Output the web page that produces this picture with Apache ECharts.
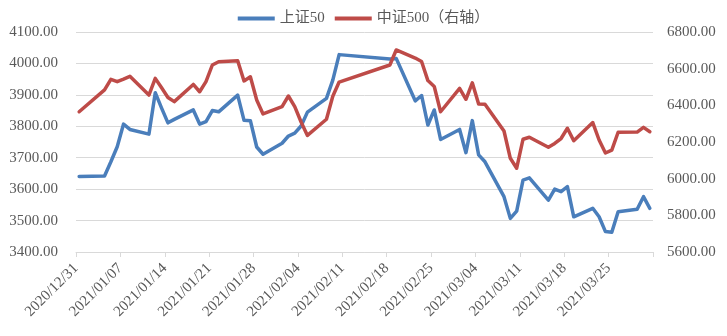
<!DOCTYPE html>
<html>
<head>
<meta charset="utf-8">
<script src="https://cdn.jsdelivr.net/npm/echarts@6/dist/echarts.min.js"></script>
<style>
  html, body { margin: 0; padding: 0; background: #fff; }
  #chart { width: 727px; height: 336px; }
</style>
</head>
<body>
<div id="chart"></div>
<script>
// Trading days, 2020/12/31 – 2021/03/31
const dates = [
  '2020/12/31',
  '2021/01/04','2021/01/05','2021/01/06','2021/01/07','2021/01/08',
  '2021/01/11','2021/01/12','2021/01/13','2021/01/14','2021/01/15',
  '2021/01/18','2021/01/19','2021/01/20','2021/01/21','2021/01/22',
  '2021/01/25','2021/01/26','2021/01/27','2021/01/28','2021/01/29',
  '2021/02/01','2021/02/02','2021/02/03','2021/02/04','2021/02/05',
  '2021/02/08','2021/02/09','2021/02/10',
  '2021/02/18','2021/02/19',
  '2021/02/22','2021/02/23','2021/02/24','2021/02/25','2021/02/26',
  '2021/03/01','2021/03/02','2021/03/03','2021/03/04','2021/03/05',
  '2021/03/08','2021/03/09','2021/03/10','2021/03/11','2021/03/12',
  '2021/03/15','2021/03/16','2021/03/17','2021/03/18','2021/03/19',
  '2021/03/22','2021/03/23','2021/03/24','2021/03/25','2021/03/26',
  '2021/03/29','2021/03/30','2021/03/31'
];

// 上证50 closing level (left axis)
const sz50 = [
  3640,
  3642, 3687, 3735, 3807, 3790,
  3775, 3907, 3858, 3811, 3822,
  3852, 3807, 3815, 3850, 3846,
  3899, 3819, 3818, 3734, 3711,
  3746, 3769, 3778, 3801, 3845,
  3889, 3947, 4028,
  4014, 4016,
  3881, 3898, 3804, 3852, 3758,
  3790, 3716, 3818, 3709, 3687,
  3576, 3507, 3530, 3629, 3636,
  3565, 3600, 3592, 3608, 3512,
  3539, 3512, 3465, 3463, 3528,
  3536, 3576, 3539
];

// 中证500 closing level (right axis)
const zz500 = [
  6365,
  6484, 6542, 6529, 6543, 6558,
  6456, 6547, 6496, 6443, 6420,
  6514, 6474, 6529, 6620, 6638,
  6643, 6533, 6556, 6429, 6353,
  6393, 6451, 6393, 6309, 6236,
  6324, 6450, 6527,
  6620, 6702,
  6658, 6639, 6535, 6503, 6365,
  6492, 6433, 6523, 6407, 6406,
  6260, 6111, 6057, 6215, 6226,
  6171, 6192, 6219, 6275, 6207,
  6306, 6211, 6140, 6156, 6253,
  6254, 6280, 6256
];

// Weekly tick labels along the date axis
const tickLabels = [
  '2020/12/31','2021/01/07','2021/01/14','2021/01/21','2021/01/28',
  '2021/02/04','2021/02/11','2021/02/18','2021/02/25','2021/03/04',
  '2021/03/11','2021/03/18','2021/03/25'
];

const seriesNames = ['上证50', '中证500（右轴）'];

// Each calendar day occupies one slot; a point sits in the middle of its slot.
function dayUTC(s) {
  const p = s.split('/').map(Number);
  return Date.UTC(p[0], p[1] - 1, p[2]);
}
const origin = dayUTC(dates[0]);
const slot = d => (dayUTC(d) - origin) / 86400000 + 0.5;

const latin = "'Liberation Serif', 'Noto Sans CJK SC', serif";
const textColor = '#595959';

const chart = echarts.init(document.getElementById('chart'), null, { renderer: 'canvas' });
chart.setOption({
  animation: false,
  backgroundColor: '#ffffff',
  textStyle: { fontFamily: latin },
  legend: {
    top: 6,
    left: 'center',
    icon: 'rect',
    itemWidth: 37,
    itemHeight: 4,
    itemGap: 10,
    textStyle: { fontFamily: latin, fontSize: 15, color: textColor },
    data: seriesNames
  },
  grid: { left: 76, right: 74, top: 32, bottom: 84 },
  xAxis: {
    type: 'value',
    min: 0,
    max: 91,
    interval: 7,
    axisLine: { show: true, lineStyle: { color: '#d9d9d9', width: 1 } },
    axisTick: { show: true, length: 5, lineStyle: { color: '#d9d9d9' } },
    splitLine: { show: false },
    axisLabel: {
      rotate: 45,
      margin: 14,
      fontFamily: latin,
      fontSize: 15,
      color: textColor,
      showMaxLabel: true,
      formatter: v => tickLabels[Math.round(v / 7)] || ''
    }
  },
  yAxis: [
    {
      type: 'value',
      min: 3400,
      max: 4100,
      interval: 100,
      axisLine: { show: false },
      axisTick: { show: false },
      splitLine: { show: true, lineStyle: { color: '#d9d9d9', width: 1 } },
      axisLabel: {
        margin: 18,
        fontFamily: latin,
        fontSize: 15,
        color: textColor,
        formatter: v => v.toFixed(2)
      }
    },
    {
      type: 'value',
      min: 5600,
      max: 6800,
      interval: 200,
      position: 'right',
      axisLine: { show: false },
      axisTick: { show: false },
      splitLine: { show: false },
      axisLabel: {
        margin: 14,
        fontFamily: latin,
        fontSize: 15,
        color: textColor,
        formatter: v => v.toFixed(2)
      }
    }
  ],
  series: [
    {
      name: seriesNames[0],
      type: 'line',
      yAxisIndex: 0,
      symbol: 'none',
      color: '#4a7ebb',
      lineStyle: { width: 3.5, color: '#4a7ebb', join: 'round', cap: 'round' },
      data: dates.map((d, i) => [slot(d), sz50[i]])
    },
    {
      name: seriesNames[1],
      type: 'line',
      yAxisIndex: 1,
      symbol: 'none',
      color: '#be4b48',
      lineStyle: { width: 3.5, color: '#be4b48', join: 'round', cap: 'round' },
      data: dates.map((d, i) => [slot(d), zz500[i]])
    }
  ]
});
</script>
</body>
</html>
